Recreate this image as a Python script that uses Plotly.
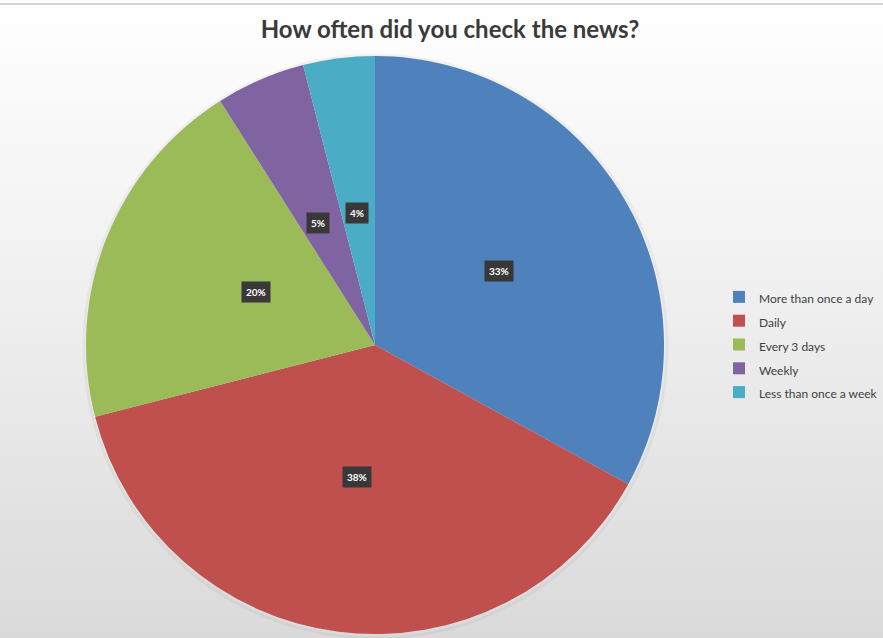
import math
import plotly.graph_objects as go

# Survey answers: how often respondents checked the news
categories = ["More than once a day", "Daily", "Every 3 days", "Weekly", "Less than once a week"]
shares = [33, 38, 20, 5, 4]
colors = ["#4F81BD", "#C0504D", "#9BBB59", "#8064A2", "#4BACC6"]

W, H = 883, 638
CX, CY, R = 375, 345, 289  # pie centre and radius in pixels (y from top)

# legend rows are spaced by the legend font; the label itself is set smaller
legend_labels = [f'<span style="font-size:12px">{c}</span>' for c in categories]

fig = go.Figure()

# soft vertical background gradient
fig.add_trace(go.Scatter(
    x=[0, 1, 1, 0, 0], y=[0, 0, 1, 1, 0], mode="lines", line=dict(width=0),
    fill="toself", hoverinfo="skip", showlegend=False,
    fillgradient=dict(type="vertical", colorscale=[[0, "#dadada"], [0.55, "#f0f0f0"], [1, "#ffffff"]]),
))

fig.add_trace(go.Pie(
    labels=legend_labels, values=shares, sort=False, direction="clockwise", rotation=0,
    marker=dict(colors=colors, line=dict(width=0)),
    textinfo="none", hoverinfo="label+percent",
    domain=dict(x=[(CX - R) / W, (CX + R) / W], y=[max(0, (H - CY - R) / H), min(1, (H - CY + R) / H)]),
))

# dark value boxes at the middle of each slice
annotations = []
total = sum(shares)
cum = 0
for v in shares:
    mid = (cum + v / 2) / total * 2 * math.pi
    cum += v
    px = CX + 0.5 * R * math.sin(mid)
    py = CY - 0.5 * R * math.cos(mid)
    annotations.append(dict(
        x=px / W, y=1 - py / H, xref="paper", yref="paper", showarrow=False,
        text=f"<b>{round(v / total * 100)}%</b>",
        font=dict(family="Lato, Arial", size=10, color="white"),
        bgcolor="#383838", borderpad=4,
    ))

fig.update_layout(
    width=W, height=H,
    margin=dict(l=0, r=0, t=0, b=0),
    paper_bgcolor="white", plot_bgcolor="rgba(0,0,0,0)",
    xaxis=dict(range=[0, 1], visible=False, fixedrange=True),
    yaxis=dict(range=[0, 1], visible=False, fixedrange=True),
    title=dict(text="<b>How often did you check the news?</b>", x=450 / W, xanchor="center",
               y=1 - 30 / H, yanchor="middle",
               font=dict(family="Lato, Arial", size=24, color="#3a3a3a")),
    legend=dict(x=1, xanchor="right", y=1 - 280 / H, yanchor="top",
                font=dict(family="Lato, Arial", size=16, color="#404040"),
                bgcolor="rgba(0,0,0,0)"),
    annotations=annotations,
    shapes=[
        dict(type="line", xref="paper", yref="paper", x0=0, x1=1, y0=1 - 4 / H, y1=1 - 4 / H,
             line=dict(color="#c4c4c4", width=1.5)),
        dict(type="circle", xref="paper", yref="paper", layer="above",
             x0=(CX - R - 2) / W, x1=(CX + R + 3) / W,
             y0=(H - CY - R - 4) / H, y1=(H - CY + R + 1) / H,
             line=dict(color="rgba(0,0,0,0.04)", width=3)),
    ],
)

fig.write_html("out.html")
